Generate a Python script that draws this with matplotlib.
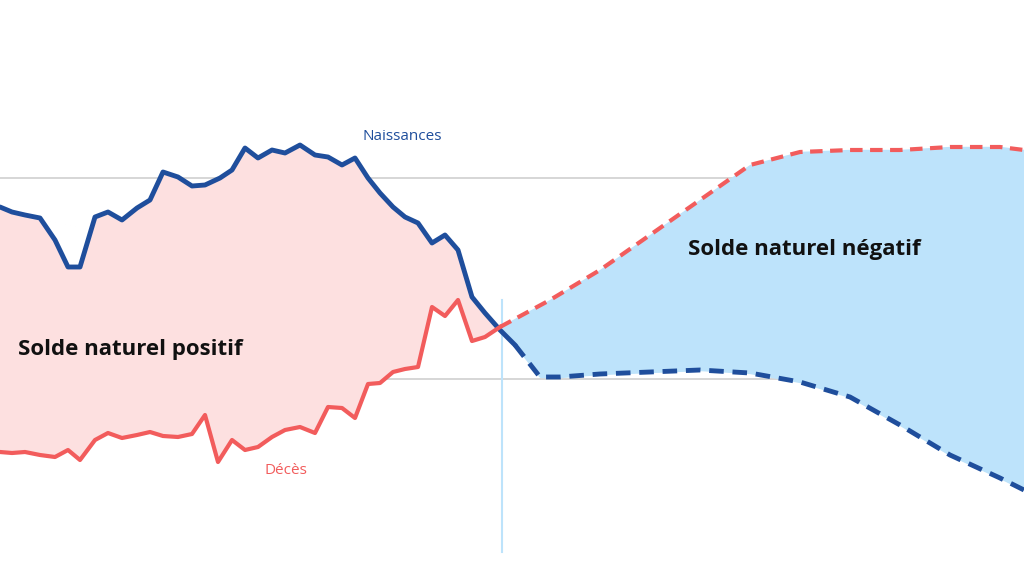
import matplotlib
matplotlib.use("Agg")
import matplotlib.pyplot as plt
import numpy as np

plt.rcParams['font.family'] = ['Open Sans', 'DejaVu Sans']

# x positions (time axis units) and values (screen-like units, larger = lower)
birth_x = [0,12,25,40,55,68,80,95,108,122,137,150,163,178,192,205,220,232,245,258,272,285,300,315,328,342,355,368,380,393,405,418,432,445,458,472,485,500,515]
birth_y = [207,212,215,218,240,267,267,217,212,220,208,200,172,177,186,185,178,170,148,158,150,153,145,155,157,165,158,178,193,207,217,223,243,235,250,297,313,330,345]
birth_px = [515,540,560,600,650,700,750,800,850,900,950,1000,1024]
birth_py = [345,377,377,374,372,370,373,382,397,425,455,478,490]

death_x = [0,12,25,40,55,68,80,95,108,122,137,150,163,178,192,205,218,232,245,258,272,285,300,315,328,342,355,368,380,393,405,418,432,445,458,472,485,500]
death_y = [452,453,452,455,457,450,460,440,433,438,435,432,436,437,434,415,462,440,450,447,437,430,427,433,407,408,418,384,383,372,369,367,307,316,300,341,337,327]
death_px = [500,550,600,650,700,750,800,850,900,950,1000,1024]
death_py = [327,300,270,235,200,165,152,150,150,147,147,150]

BLUE = "#1f4e9c"; RED = "#f25c5c"
fig = plt.figure(figsize=(10.24, 5.76), dpi=100)
ax = fig.add_axes([0, 0, 1, 1])
ax.set_xlim(0, 1024); ax.set_ylim(576, 0); ax.axis("off")

for g in (178, 379):
    ax.axhline(g, color="#cfcfcf", lw=1.2, zorder=0)
ax.plot([502, 502], [300, 552], color="#bde3fb", lw=1.5, zorder=1)

xs = np.linspace(0, 500, 400)
b = np.interp(xs, birth_x, birth_y); d = np.interp(xs, death_x, death_y)
ax.fill_between(xs, b, d, where=b <= d, color="#fde0e0", interpolate=True, zorder=1)
xs2 = np.linspace(500, 1024, 400)
bx = birth_x + birth_px[1:]; by = birth_y + birth_py[1:]
b2 = np.interp(xs2, bx, by); d2 = np.interp(xs2, death_px, death_py)
ax.fill_between(xs2, b2, d2, where=b2 >= d2, color="#bde3fb", interpolate=True, zorder=1)

ax.plot(birth_x, birth_y, color=BLUE, lw=3.5, zorder=3, solid_capstyle="round")
ax.plot(birth_px, birth_py, color=BLUE, lw=3.5, ls=(0, (3, 1.8)), zorder=3)
ax.plot(death_x, death_y, color=RED, lw=3, zorder=3)
ax.plot(death_px, death_py, color=RED, lw=3, ls=(0, (3, 1.8)), zorder=3)

ax.text(18, 350, "Solde naturel positif", fontsize=16, fontweight="bold", va="center", color="#111111")
ax.text(688, 250, "Solde naturel négatif", fontsize=16, fontweight="bold", va="center", color="#111111")
ax.text(362, 136, "Naissances", fontsize=11, va="center", color=BLUE)
ax.text(265, 470, "Décès", fontsize=11, va="center", color=RED)

fig.savefig("out.png", dpi=100)
